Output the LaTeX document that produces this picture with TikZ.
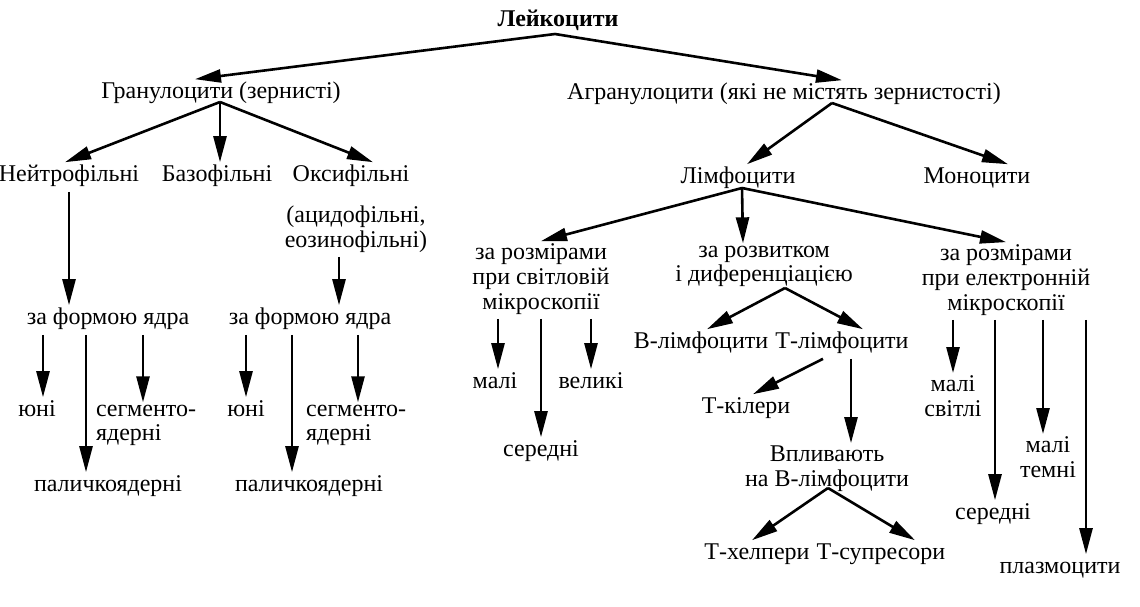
\documentclass[tikz,border=0pt]{standalone}
\usepackage{fontspec}
\setmainfont{Liberation Serif}
\usepackage{tikz}
\usetikzlibrary{arrows, arrows.meta}
\tikzstyle{arrow}=[arrows={-{Triangle[length=13pt,width=6.5pt]}}, line width=1.3pt]
\tikzset{
    txt/.style={inner sep=1pt, yshift=-1pt, font=\fontsize{12}{12.4}\selectfont,
        execute at begin node=\strut, execute at end node=\strut},
    ml/.style={txt, yshift=-1.5pt, align=center},
    mll/.style={txt, yshift=-1.5pt, align=left}
}
\begin{document}
\begin{tikzpicture}[x=0.5pt, y=-0.5pt]
 \useasboundingbox (0,0) rectangle (1140,606);

      \node (leyk)[txt, font=\fontsize{12}{12.4}\selectfont\bfseries] at (558,20) {Лейкоцити};
      \node (gran)[txt] at (221,92) {Гранулоцити (зернисті)};
      \node (agran)[txt] at (784,93) {Агранулоцити (які не містять зернистості)};

      % granulocytes
      \node (neut)[txt] at (69,175) {Нейтрофільні};
      \node (bazo)[txt] at (217,175) {Базофільні};
      \node (oksy)[txt] at (351,175) {Оксифільні};
      \node (acid)[ml] at (356,225) {(ацидофільні,\\еозинофільні)};
      \node (zf1)[txt] at (108,318) {за формою ядра};
      \node (zf2)[txt] at (310,318) {за формою ядра};
      \node (yun1)[txt] at (37,410) {юні};
      \node (seg1)[mll] at (146,421.5) {сегменто-\\ядерні};
      \node (pal1)[txt] at (108,485) {паличкоядерні};
      \node (yun2)[txt] at (246,410) {юні};
      \node (seg2)[mll] at (356,421.5) {сегменто-\\ядерні};
      \node (pal2)[txt] at (309,485) {паличкоядерні};

      % agranulocytes
      \node (limf)[txt] at (738,177) {Лімфоцити};
      \node (mono)[txt] at (977,177) {Моноцити};
      \node (rsv)[ml] at (541,275) {за розмірами\\при світловій\\мікроскопії};
      \node (rozv)[ml] at (764,262.5) {за розвитком\\і диференціацією};
      \node (rel)[ml] at (1006,276) {за розмірами\\при електронній\\мікроскопії};
      \node (mali1)[txt] at (495,382) {малі};
      \node (sered1)[txt] at (541,450) {середні};
      \node (vel)[txt] at (591,382) {великі};
      \node (blim)[txt] at (701,342) {В-лімфоцити};
      \node (tlim)[txt] at (842,342) {Т-лімфоцити};
      \node (tkil)[txt] at (746,407) {Т-кілери};
      \node (vpl)[ml] at (827,464.5) {Впливають\\на В-лімфоцити};
      \node (thel)[txt] at (757,553) {Т-хелпери};
      \node (tsup)[txt] at (881,553) {Т-супресори};
      \node (malsv)[ml] at (953,394.5) {малі\\світлі};
      \node (sered2)[txt] at (993,513) {середні};
      \node (malt)[ml] at (1048,455.5) {малі\\темні};
      \node (plaz)[txt] at (1060,567) {плазмоцити};

      \coordinate (lA) at (555,34);
      \coordinate (gA) at (220,102);
      \coordinate (aA) at (832,103);
      \coordinate (lmA) at (742,188);
      \coordinate (rzA) at (785,288);
      \coordinate (vA) at (828,488);

  \draw[arrow] (lA) -- ([xshift=-13pt]gran.north);
  \draw[arrow] (lA) -- ([xshift=29pt]agran.north);

  \draw[arrow] (gA) -- ([xshift=-2pt]neut.north);
  \draw[arrow] (gA) -- ([xshift=1.5pt]bazo.north);
  \draw[arrow] (gA) -- ([xshift=11pt]oksy.north);
  \draw[arrow] (neut.south) -- (neut.south |- zf1.north);
  \draw[arrow] ([xshift=-8.5pt]acid.south) -- ([xshift=-8.5pt]acid.south |- zf2.north);

  \draw[arrow] ([xshift=3pt]yun1.north |- zf1.south) -- ([xshift=3pt]yun1.north);
  \draw[arrow] ([xshift=-11pt]pal1.north |- zf1.south) -- ([xshift=-11pt]pal1.north);
  \draw[arrow] ([xshift=-1.5pt]seg1.north |- zf1.south) -- ([xshift=-1.5pt]seg1.north);
  \draw[arrow] (yun2.north |- zf2.south) -- (yun2.north);
  \draw[arrow] ([xshift=-8.5pt]pal2.north |- zf2.south) -- ([xshift=-8.5pt]pal2.north);
  \draw[arrow] ([xshift=1pt]seg2.north |- zf2.south) -- ([xshift=1pt]seg2.north);

  \draw[arrow] (aA) -- ([xshift=4.5pt]limf.north);
  \draw[arrow] (aA) -- ([xshift=15.5pt]mono.north);
  \draw[arrow] (lmA) -- (rsv.north);
  \draw[arrow] (lmA) -- ([xshift=-10.5pt]rozv.north);
  \draw[arrow] (lmA) -- (rel.north);

  \draw[arrow] ([xshift=1.5pt]mali1.north |- rsv.south) -- ([xshift=1.5pt]mali1.north);
  \draw[arrow] (sered1.north |- rsv.south) -- (sered1.north);
  \draw[arrow] (vel.north |- rsv.south) -- (vel.north);

  \draw[arrow] (rzA) -- ([xshift=3pt]blim.north);
  \draw[arrow] (rzA) -- ([xshift=10.5pt]tlim.north);
  \draw[arrow] ([xshift=-9.5pt]tlim.south) -- ([xshift=3.5pt]tkil.north);
  \draw[arrow] ([xshift=4.5pt]tlim.south) -- ([xshift=4.5pt]tlim.south |- vpl.north);
  \draw[arrow] (vA) -- ([xshift=-2.5pt]thel.north);
  \draw[arrow] (vA) -- ([xshift=17pt]tsup.north);

  \draw[arrow] (malsv.north |- rel.south) -- (malsv.north);
  \draw[arrow] ([xshift=1pt]sered2.north |- rel.south) -- ([xshift=1pt]sered2.north);
  \draw[arrow] ([xshift=-2.5pt]malt.north |- rel.south) -- ([xshift=-2.5pt]malt.north);
  \draw[arrow] ([xshift=13pt]plaz.north |- rel.south) -- ([xshift=13pt]plaz.north);

\end{tikzpicture}
\end{document}
